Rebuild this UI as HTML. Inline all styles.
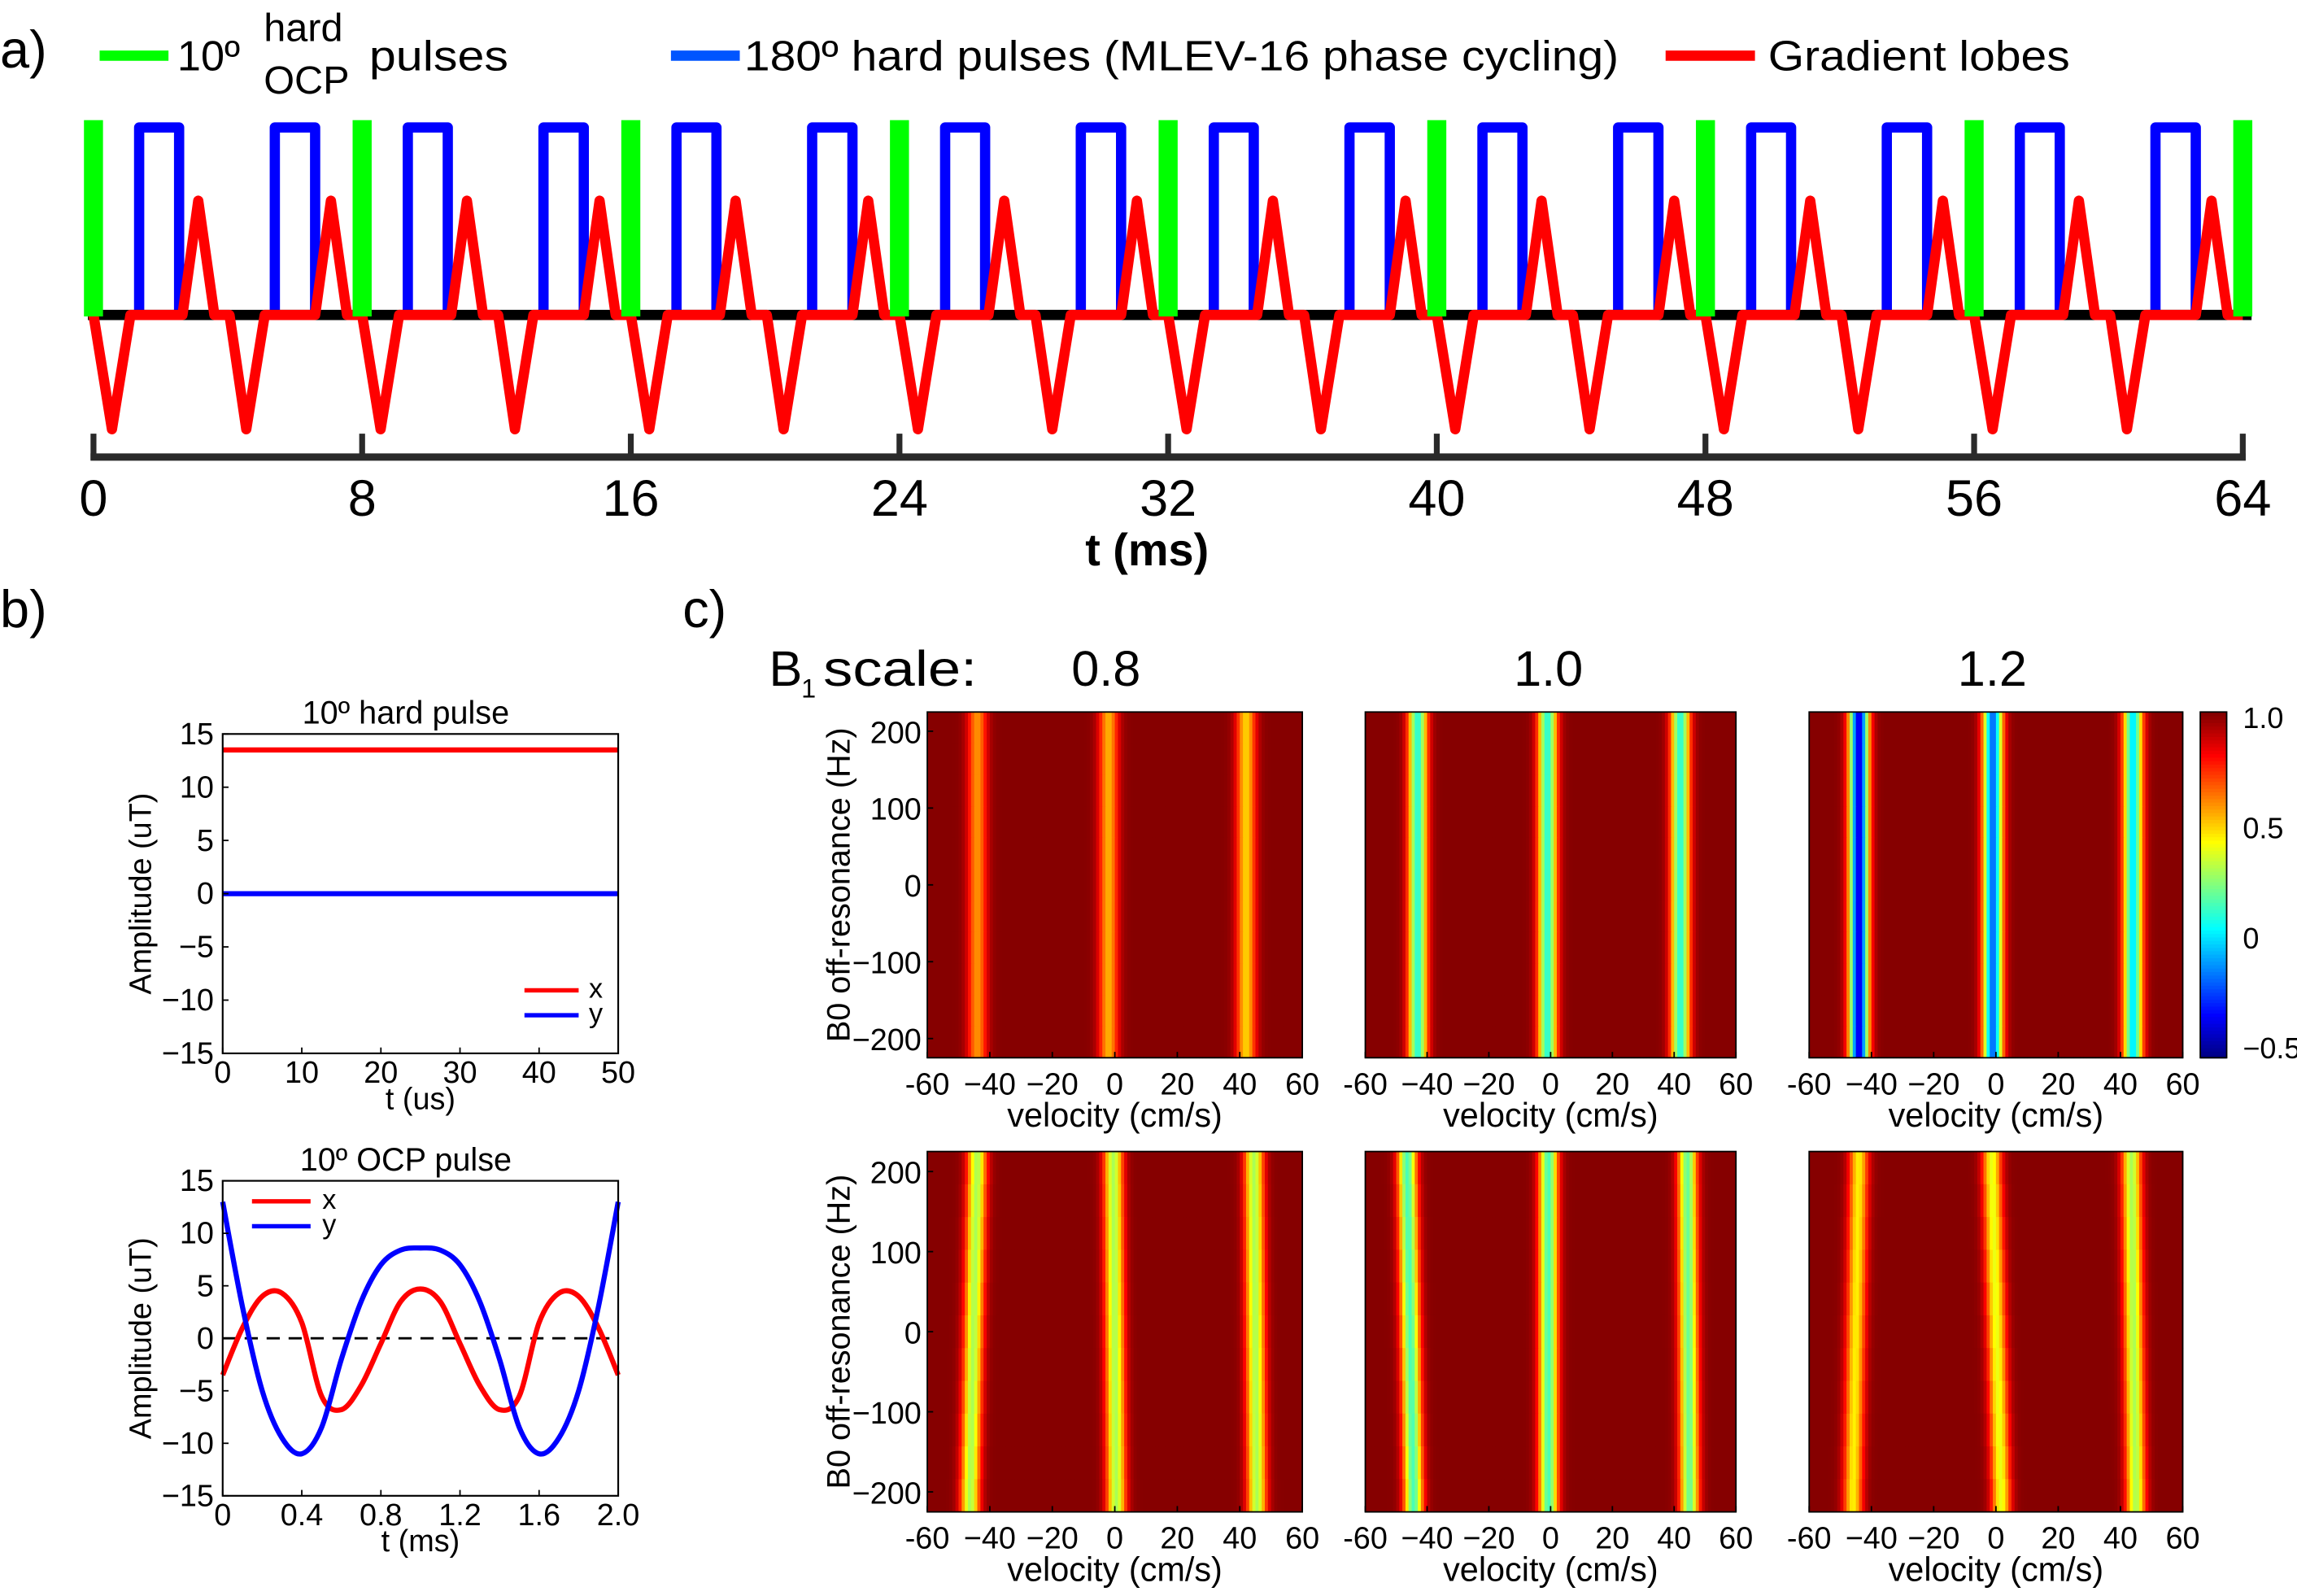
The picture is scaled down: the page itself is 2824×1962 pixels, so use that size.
<!DOCTYPE html>
<html><head><meta charset="utf-8"><style>
html,body{margin:0;padding:0;background:#fff}
svg{display:block}
text{font-family:"Liberation Sans",Arial,sans-serif;fill:#000}
</style></head><body>
<svg id="fig" width="2824" height="1962" viewBox="0 0 1568 1089.4" xmlns="http://www.w3.org/2000/svg">
<g id="pa"></g>
<g id="pb"></g>
<g id="pc"></g>
</svg>
<script>
// ---------- data ----------
const aTicks=[0,8,16,24,32,40,48,56,64];
const aPeriods=[0,8,16,24,32,40,48,56];
const greenTimes=[0,8,16,24,32,40,48,56,64];
const blueStarts=[1.36,5.4];
const blueEnds=[2.55,6.6];
const lobeStart=[0.0,2.65,4.05,6.6];
const lobePeak=[0.55,3.12,4.55,7.07];
const lobeEnd=[1.1,3.6,5.1,7.55];
const lobeSign=[-1,1,-1,1];

const hardT=[0,50];
const hardX=[13.5,13.5];
const hardY=[0,0];
const ocpT=[0,0.1,0.2,0.3,0.4,0.5,0.6,0.7,0.8,0.9,1.0,1.1,1.2,1.3,1.4,1.5,1.6,1.7,1.8,1.9,2.0];
const ocpX=[-3.5,1.0,4.0,4.3,1.5,-5.5,-6.8,-4.5,-0.5,3.5,4.7,3.5,-0.5,-4.5,-6.8,-5.5,1.5,4.3,4.0,1.0,-3.5];
const ocpY=[13,3,-5,-9.5,-11,-8.5,-2,3.5,7,8.4,8.6,8.4,7,3.5,-2,-8.5,-11,-9.5,-5,3,13];
const bTicksY=[15,10,5,0,-5,-10,-15];
const hardTicksX=[0,10,20,30,40,50];
const ocpTicksX=[0,0.4,0.8,1.2,1.6,2.0];

const b1Labels=["0.8","1.0","1.2"];
const bandTop=[[-44,-2,42],[-43,-1,42],[-44,-1,44],[-44,-0.5,44.5],[-46.5,-0.7,44.3],[-44,-1.4,43.5]];
const bandBottom=[[-44,-2,42],[-43,-1,42],[-44,-1,44],[-46.4,0.5,45.5],[-44.3,-0.7,45],[-46,1.8,45]];
const bandMin=[[0.6,0.55,0.5],[0.1,0.1,0.1],[-0.4,-0.2,0.0],[0.3,0.3,0.3],[0.15,0.15,0.2],[0.45,0.4,0.3]];
const hmVelTicks=[-60,-40,-20,0,20,40,60];
const hmVelLabels=["-60","\u221240","\u221220","0","20","40","60"];
const hmHzTicks=[200,100,0,-100,-200];
const hmHzLabels=["200","100","0","\u2212100","\u2212200"];
const cbTicks=[1.0,0.5,0,-0.5];
const cbLabels=["1.0","0.5","0","\u22120.5"];

// ---------- helpers ----------
const NS="http://www.w3.org/2000/svg";
function mk(parent,tag,attrs,txt){const e=document.createElementNS(NS,tag);for(const k in attrs)e.setAttribute(k,attrs[k]);if(txt!==undefined)e.textContent=txt;parent.appendChild(e);return e;}
function lin(d0,d1,r0,r1){return v=>r0+(v-d0)/(d1-d0)*(r1-r0);}

// ---------- panel a ----------
const pa=document.getElementById('pa');
let t=mk(pa,'text',{x:0,y:46,'font-size':36},'a)');

const ax=lin(0,64,63.8,1531), base=215;
// legend
let lg=mk(pa,'g',{});
let l1=mk(lg,'line',{x1:68,y1:38,x2:115,y2:38,stroke:'#00ff00','stroke-width':7});
t=mk(lg,'text',{x:121,y:48,'font-size':29},'10º');
t=mk(lg,'text',{x:180,y:28,'font-size':27},'hard');
t=mk(lg,'text',{x:180,y:64,'font-size':27},'OCP');
t=mk(lg,'text',{x:252,y:48,'font-size':29,textLength:95,lengthAdjust:'spacingAndGlyphs'},'pulses');
let l2=mk(lg,'line',{x1:458,y1:38,x2:505,y2:38,stroke:'#0055ff','stroke-width':7});
t=mk(lg,'text',{x:508,y:48,'font-size':29,textLength:597,lengthAdjust:'spacingAndGlyphs'},'180º hard pulses (MLEV-16 phase cycling)');
let l3=mk(lg,'line',{x1:1137,y1:38,x2:1198,y2:38,stroke:'#ff0000','stroke-width':7});
t=mk(lg,'text',{x:1207,y:48,'font-size':29,textLength:206,lengthAdjust:'spacingAndGlyphs'},'Gradient lobes');
// blue pulses
aPeriods.forEach(p=>{for(let i=0;i<blueStarts.length;i++){
 const x0=ax(p+blueStarts[i]),x1=ax(p+blueEnds[i]);
 const e=mk(pa,'polyline',{points:`${x0},${base} ${x0},87 ${x1},87 ${x1},${base}`,fill:'none',stroke:'#0000ff','stroke-width':7,'stroke-linejoin':'round'});
 }});
// baseline
let bl=mk(pa,'line',{x1:60,y1:base,x2:1537,y2:base,stroke:'#000','stroke-width':7});
// red gradients
let pts=[[ax(0),base]];
aPeriods.forEach(p=>{for(let i=0;i<lobeStart.length;i++){
 pts.push([ax(p+lobeStart[i]),base]);pts.push([ax(p+lobePeak[i]),base-78*lobeSign[i]]);pts.push([ax(p+lobeEnd[i]),base]);}});
pts.push([ax(64),base]);
let rg=mk(pa,'polyline',{points:pts.map(q=>q.join(',')).join(' '),fill:'none',stroke:'#ff0000','stroke-width':7,'stroke-linejoin':'round'});

// green
greenTimes.forEach(g=>{const e=mk(pa,'rect',{x:ax(g)-6.5,y:82,width:13,height:base-82+1,fill:'#00ff00'});
 });
// axis
let axl=mk(pa,'line',{x1:ax(0)-2,y1:312,x2:ax(64)+2,y2:312,stroke:'#2a2a2a','stroke-width':5});
aTicks.forEach(v=>{const e=mk(pa,'line',{x1:ax(v),y1:296,x2:ax(v),y2:314,stroke:'#2a2a2a','stroke-width':4});
 const l=mk(pa,'text',{x:ax(v),y:352,'font-size':35,'text-anchor':'middle',fill:'#222'},String(v));});
t=mk(pa,'text',{x:783,y:386,'font-size':31,'text-anchor':'middle','font-weight':'bold'},'t (ms)');

// ---------- panel b ----------
const pb=document.getElementById('pb');
t=mk(pb,'text',{x:0,y:428,'font-size':36},'b)');
function catmull(P){let d=`M${P[0][0]},${P[0][1]}`;for(let i=0;i<P.length-1;i++){const p0=P[Math.max(0,i-1)],p1=P[i],p2=P[i+1],p3=P[Math.min(P.length-1,i+2)];
 d+=` C${p1[0]+(p2[0]-p0[0])/6},${p1[1]+(p2[1]-p0[1])/6} ${p2[0]-(p3[0]-p1[0])/6},${p2[1]-(p3[1]-p1[1])/6} ${p2[0]},${p2[1]}`;}return d;}
function bAxes(name,top,bot,xd1,xt,xl,title,tx,xs,ys,legendTop){
 const g=mk(pb,'g',{});
 const L=152,R=422;const sx=lin(0,xd1,L,R),sy=lin(15,-15,top,bot);
 if(name==='ocp-pulse-plot'){const z=mk(g,'line',{x1:L,y1:sy(0),x2:R,y2:sy(0),stroke:'#000','stroke-width':1.6,'stroke-dasharray':'9,6'});}
 const cx=mk(g,'path',{d:catmull(tx.map((v,i)=>[sx(v),sy(xs[i])])),fill:'none',stroke:'#ff0000','stroke-width':3.5});
 const cy=mk(g,'path',{d:catmull(tx.map((v,i)=>[sx(v),sy(ys[i])])),fill:'none',stroke:'#0000ff','stroke-width':3.5});
 const bx=mk(g,'rect',{x:L,y:top,width:R-L,height:bot-top,fill:'none',stroke:'#000','stroke-width':1.2});
 bTicksY.forEach(v=>{const e=mk(g,'line',{x1:L,y1:sy(v),x2:L+4,y2:sy(v),stroke:'#000'});
  const l=mk(g,'text',{x:L-6,y:sy(v)+7,'font-size':21,'text-anchor':'end'},v<0?'\u2212'+(-v):String(v));});
 xt.forEach(v=>{const e=mk(g,'line',{x1:sx(v),y1:bot,x2:sx(v),y2:bot-4,stroke:'#000'});
  const l=mk(g,'text',{x:sx(v),y:bot+20,'font-size':21,'text-anchor':'middle'},xd1===2?v.toFixed(1).replace('0.0','0'):String(v));});
 let e=mk(g,'text',{x:sx(xd1/2),y:bot+38,'font-size':21,'text-anchor':'middle'},xl);
 e=mk(g,'text',{x:0,y:0,'font-size':21,'text-anchor':'middle',transform:`translate(103,${(top+bot)/2}) rotate(-90)`},'Amplitude (uT)');
 e=mk(g,'text',{x:277,y:top-7,'font-size':22,'text-anchor':'middle'},title);
 const lx=legendTop?[172,212,220]:[358,395,402],ly=legendTop?[top+14,top+31]:[bot-43,bot-26];
 e=mk(g,'line',{x1:lx[0],y1:ly[0],x2:lx[1],y2:ly[0],stroke:'#ff0000','stroke-width':3});
 e=mk(g,'text',{x:lx[2],y:ly[0]+5,'font-size':19},'x');
 e=mk(g,'line',{x1:lx[0],y1:ly[1],x2:lx[1],y2:ly[1],stroke:'#0000ff','stroke-width':3});
 e=mk(g,'text',{x:lx[2],y:ly[1]+5,'font-size':19},'y');
}
bAxes('hard-pulse-plot',501,719,50,hardTicksX,'t (us)','10º hard pulse',hardT,hardX,hardY,false);
bAxes('ocp-pulse-plot',806,1021,2,ocpTicksX,'t (ms)','10º OCP pulse',ocpT,ocpX,ocpY,true);

// ---------- panel c ----------
const pc=document.getElementById('pc');
t=mk(pc,'text',{x:466,y:428,'font-size':36},'c)');
t=mk(pc,'text',{x:525,y:468,'font-size':34},'B');
t=mk(pc,'text',{x:547,y:476,'font-size':18},'1');
t=mk(pc,'text',{x:562,y:468,'font-size':34,textLength:105,lengthAdjust:'spacingAndGlyphs'},'scale:');
const colX=[[633,889],[932,1185],[1235,1490]];
const rowY=[[486,722],[786,1032]];
const headX=[755,1057,1360];
b1Labels.forEach((s,i)=>{const e=mk(pc,'text',{x:headX[i],y:468,'font-size':34,'text-anchor':'middle'},s);});
const CMIN=-0.55,CMAX=1.02;
function jet(v){const n=Math.max(0,Math.min(1,(v-CMIN)/(CMAX-CMIN)));const c=x=>Math.round(255*Math.max(0,Math.min(1,1.5-Math.abs(4*n-x))));return `rgb(${c(3)},${c(2)},${c(1)})`;}
const NR=11,NC=120;
for(let p=0;p<6;p++){
 const [L,R]=colX[p%3],[T,B]=rowY[Math.floor(p/3)];
 const g=mk(pc,'g',{});
 const sx=lin(-60,60,L,R),sy=lin(225,-225,T,B);
 const cw=(R-L)/NC,rh=(B-T)/NR;
 for(let r=0;r<NR;r++){
  const hz=225-(r+0.5)*450/NR;const f=(225-hz)/450;
  for(let c=0;c<NC;c++){
   const v=-60+(c+0.5)*120/NC;let val=1.01;
   for(let b=0;b<3;b++){const ctr=bandTop[p][b]+(bandBottom[p][b]-bandTop[p][b])*f;const d=(v-ctr)/3.1;val=Math.min(val,1.01-(1.01-bandMin[p][b])*Math.exp(-d*d));}
   const e=mk(g,'rect',{x:L+c*cw,y:T+r*rh,width:cw+0.4,height:rh+0.4,fill:jet(val)});
   
  }}
 let e=mk(g,'rect',{x:L,y:T,width:R-L,height:B-T,fill:'none',stroke:'#000','stroke-width':1});
 hmVelTicks.forEach((v,i)=>{const k=mk(g,'line',{x1:sx(v),y1:B,x2:sx(v),y2:B-4,stroke:'#000'});
  const l=mk(g,'text',{x:sx(v),y:B+25,'font-size':21,'text-anchor':'middle'},hmVelLabels[i]);});
 e=mk(g,'text',{x:(L+R)/2,y:B+47,'font-size':23,'text-anchor':'middle'},'velocity (cm/s)');
 if(p%3===0){
  hmHzTicks.forEach((v,i)=>{const k=mk(g,'line',{x1:L,y1:sy(v),x2:L+4,y2:sy(v),stroke:'#000'});
   const l=mk(g,'text',{x:L-4,y:sy(v)+8,'font-size':21,'text-anchor':'end'},hmHzLabels[i]);});
  e=mk(g,'text',{x:0,y:0,'font-size':22,'text-anchor':'middle',transform:`translate(580,${(T+B)/2}) rotate(-90)`},'B0 off-resonance (Hz)');
 }
}
// colorbar
const cbg=mk(pc,'g',{});
const cy=lin(CMIN,CMAX,722,486);
for(let i=0;i<100;i++){const v0=CMIN+i*(CMAX-CMIN)/100,v1=v0+(CMAX-CMIN)/100;
 const e=mk(cbg,'rect',{x:1502,y:cy(v1),width:18,height:cy(v0)-cy(v1)+0.5,fill:jet((v0+v1)/2)});}
let cbb=mk(cbg,'rect',{x:1502,y:486,width:18,height:236,fill:'none',stroke:'#000'});
cbTicks.forEach((v,i)=>{const l=mk(cbg,'text',{x:1531,y:cy(v)+8,'font-size':20},cbLabels[i]);});
</script>
</body></html>
